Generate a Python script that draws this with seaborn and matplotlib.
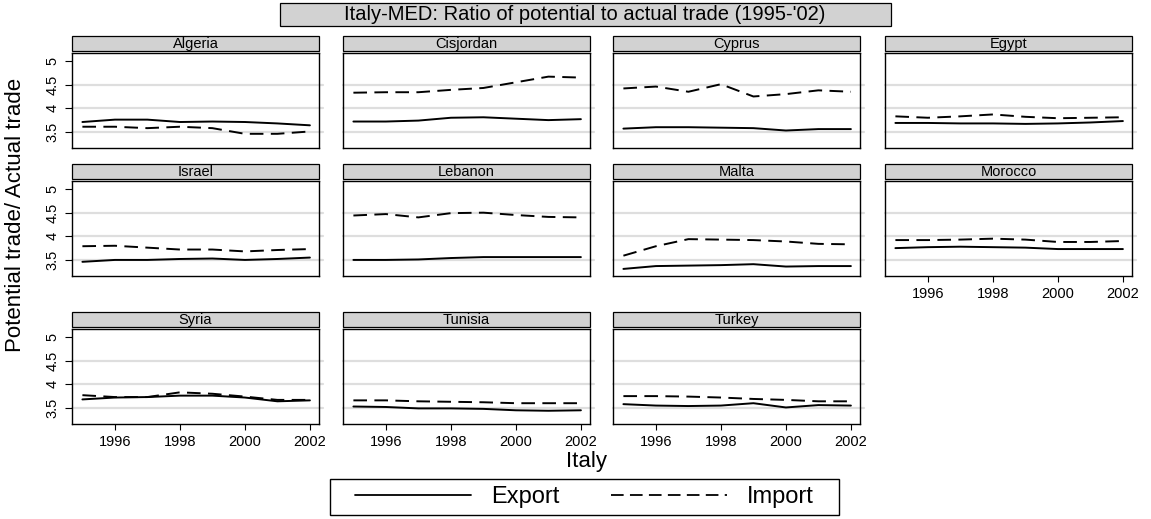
import numpy as np
import pandas as pd
import matplotlib
matplotlib.use("Agg")
import matplotlib.pyplot as plt
from matplotlib.patches import Rectangle
from matplotlib.lines import Line2D
import seaborn as sns

years = [1995, 1996, 1997, 1998, 1999, 2000, 2001, 2002]
countries = ["Algeria", "Cisjordan", "Cyprus", "Egypt",
             "Israel", "Lebanon", "Malta", "Morocco",
             "Syria", "Tunisia", "Turkey"]

# ratio of potential to actual trade, one row per country
export_ratio = [
    [3.71, 3.76, 3.76, 3.71, 3.72, 3.71, 3.68, 3.64],   # Algeria
    [3.72, 3.72, 3.74, 3.80, 3.81, 3.78, 3.75, 3.77],   # Cisjordan
    [3.57, 3.60, 3.60, 3.59, 3.58, 3.53, 3.56, 3.56],   # Cyprus
    [3.69, 3.69, 3.68, 3.68, 3.67, 3.68, 3.70, 3.73],   # Egypt
    [3.46, 3.50, 3.50, 3.52, 3.53, 3.50, 3.52, 3.55],   # Israel
    [3.50, 3.50, 3.51, 3.54, 3.56, 3.56, 3.56, 3.56],   # Lebanon
    [3.31, 3.37, 3.38, 3.39, 3.41, 3.36, 3.37, 3.37],   # Malta
    [3.75, 3.77, 3.78, 3.77, 3.76, 3.73, 3.73, 3.73],   # Morocco
    [3.68, 3.72, 3.73, 3.76, 3.76, 3.72, 3.64, 3.66],   # Syria
    [3.53, 3.52, 3.49, 3.49, 3.48, 3.45, 3.44, 3.45],   # Tunisia
    [3.58, 3.55, 3.54, 3.55, 3.60, 3.51, 3.56, 3.55],   # Turkey
]
import_ratio = [
    [3.61, 3.61, 3.58, 3.61, 3.58, 3.46, 3.46, 3.51],   # Algeria
    [4.33, 4.34, 4.34, 4.39, 4.43, 4.55, 4.67, 4.65],   # Cisjordan
    [4.42, 4.46, 4.35, 4.51, 4.25, 4.30, 4.38, 4.35],   # Cyprus
    [3.83, 3.80, 3.83, 3.87, 3.82, 3.79, 3.80, 3.81],   # Egypt
    [3.79, 3.80, 3.76, 3.72, 3.72, 3.68, 3.71, 3.73],   # Israel
    [4.44, 4.47, 4.40, 4.49, 4.50, 4.45, 4.41, 4.40],   # Lebanon
    [3.59, 3.79, 3.94, 3.93, 3.92, 3.89, 3.84, 3.83],   # Malta
    [3.92, 3.92, 3.93, 3.95, 3.93, 3.88, 3.88, 3.90],   # Morocco
    [3.77, 3.73, 3.73, 3.83, 3.80, 3.74, 3.67, 3.67],   # Syria
    [3.66, 3.66, 3.64, 3.63, 3.62, 3.60, 3.60, 3.60],   # Tunisia
    [3.75, 3.75, 3.74, 3.72, 3.69, 3.67, 3.64, 3.64],   # Turkey
]

y_ticks = [3.5, 4, 4.5, 5]
y_ticklabels = ["3.5", "4", "4.5", "5"]
x_ticks = [1996, 1998, 2000, 2002]

rows = []
for i, c in enumerate(countries):
    for j, yr in enumerate(years):
        rows.append((c, yr, "Export", export_ratio[i][j]))
        rows.append((c, yr, "Import", import_ratio[i][j]))
df = pd.DataFrame(rows, columns=["country", "year", "flow", "ratio"])

sns.set_theme(style="white")
plt.rcParams["font.family"] = ["Liberation Sans", "DejaVu Sans"]
plt.rcParams["text.color"] = "black"
plt.rcParams["xtick.color"] = "black"
plt.rcParams["ytick.color"] = "black"

W, H = 1151, 519
fig = plt.figure(figsize=(W / 100, H / 100), dpi=100)
fig.patch.set_facecolor("white")

def px_box(l, t, w, h):
    return [l / W, 1 - (t + h) / H, w / W, h / H]

col_left = [72, 343, 613, 885]
row_top = [53, 181, 329]
pw, ph = 247, 95
strip_h, strip_gap = 15, 2
strip_col = "#d2d2d2"
dash_pat = (7.0, 3.8)

for i, c in enumerate(countries):
    r, k = divmod(i, 4)
    ax = fig.add_axes(px_box(col_left[k], row_top[r], pw, ph))
    sub = df[df["country"] == c]
    sns.lineplot(data=sub, x="year", y="ratio", style="flow",
                 dashes={"Export": "", "Import": dash_pat},
                 color="black", linewidth=1.4, legend=False, ax=ax)
    for g in [3.5, 4, 4.5]:
        ax.axhline(g, xmin=0, xmax=1.018, color="#dedede", lw=1.6,
                   zorder=0, clip_on=False)
    ax.set_xlim(1994.68, 2002.28)
    ax.set_ylim(3.16, 5.17)
    ax.set_xlabel("")
    ax.set_ylabel("")
    for s in ax.spines.values():
        s.set_color("black")
        s.set_linewidth(1.0)
    ax.set_xticks(x_ticks)
    ax.set_yticks(y_ticks)
    show_x = (r == 2) or (c == "Morocco")
    show_y = (k == 0)
    ax.tick_params(axis="x", bottom=show_x, labelbottom=show_x,
                   length=4, width=0.8, labelsize=10.5, pad=4)
    ax.tick_params(axis="y", left=show_y, labelleft=show_y,
                   length=5, width=0.8, labelsize=10.5, pad=4)
    if show_y:
        ax.set_yticklabels(y_ticklabels, rotation=90, va="center")
    # strip above each panel
    ax.add_patch(Rectangle((0, 1 + strip_gap / ph), 1, strip_h / ph,
                           transform=ax.transAxes, clip_on=False,
                           facecolor=strip_col, edgecolor="black", lw=0.9))
    ax.text(0.5, 1 + (strip_gap + strip_h / 2 - 0.5) / ph, c,
            transform=ax.transAxes, ha="center", va="center", fontsize=10.5)

# title box
fig.add_artist(Rectangle((280 / W, 1 - 26 / H), 611 / W, 23 / H,
                         transform=fig.transFigure, facecolor=strip_col,
                         edgecolor="black", lw=0.9))
fig.text(585 / W, 1 - 15 / H,
         "Italy-MED: Ratio of potential to actual trade (1995-'02)",
         ha="center", va="center", fontsize=14.5)

fig.text(587 / W, 1 - 462 / H, "Italy", ha="center", va="center", fontsize=16)
fig.text(16 / W, 1 - 215 / H, "Potential trade/ Actual trade", ha="center",
         va="center", rotation=90, fontsize=16)

# legend box drawn separately so its padding can match
fig.add_artist(Rectangle((330 / W, 1 - 515 / H), 509 / W, 36 / H,
                         transform=fig.transFigure, facecolor="white",
                         edgecolor="black", lw=1.0))
handles = [Line2D([], [], color="black", lw=1.3),
           Line2D([], [], color="black", lw=1.3, linestyle=(0, (7, 3.5)))]
leg = fig.legend(handles, ["Export", "Import"], loc="center",
                 bbox_to_anchor=(584.5 / W, 1 - 497 / H), ncol=2,
                 fontsize=17, handlelength=4.9, handletextpad=0.85,
                 columnspacing=2.2, frameon=False, borderpad=0.2,
                 borderaxespad=0)

fig.savefig("out.png", dpi=100, facecolor="white")
